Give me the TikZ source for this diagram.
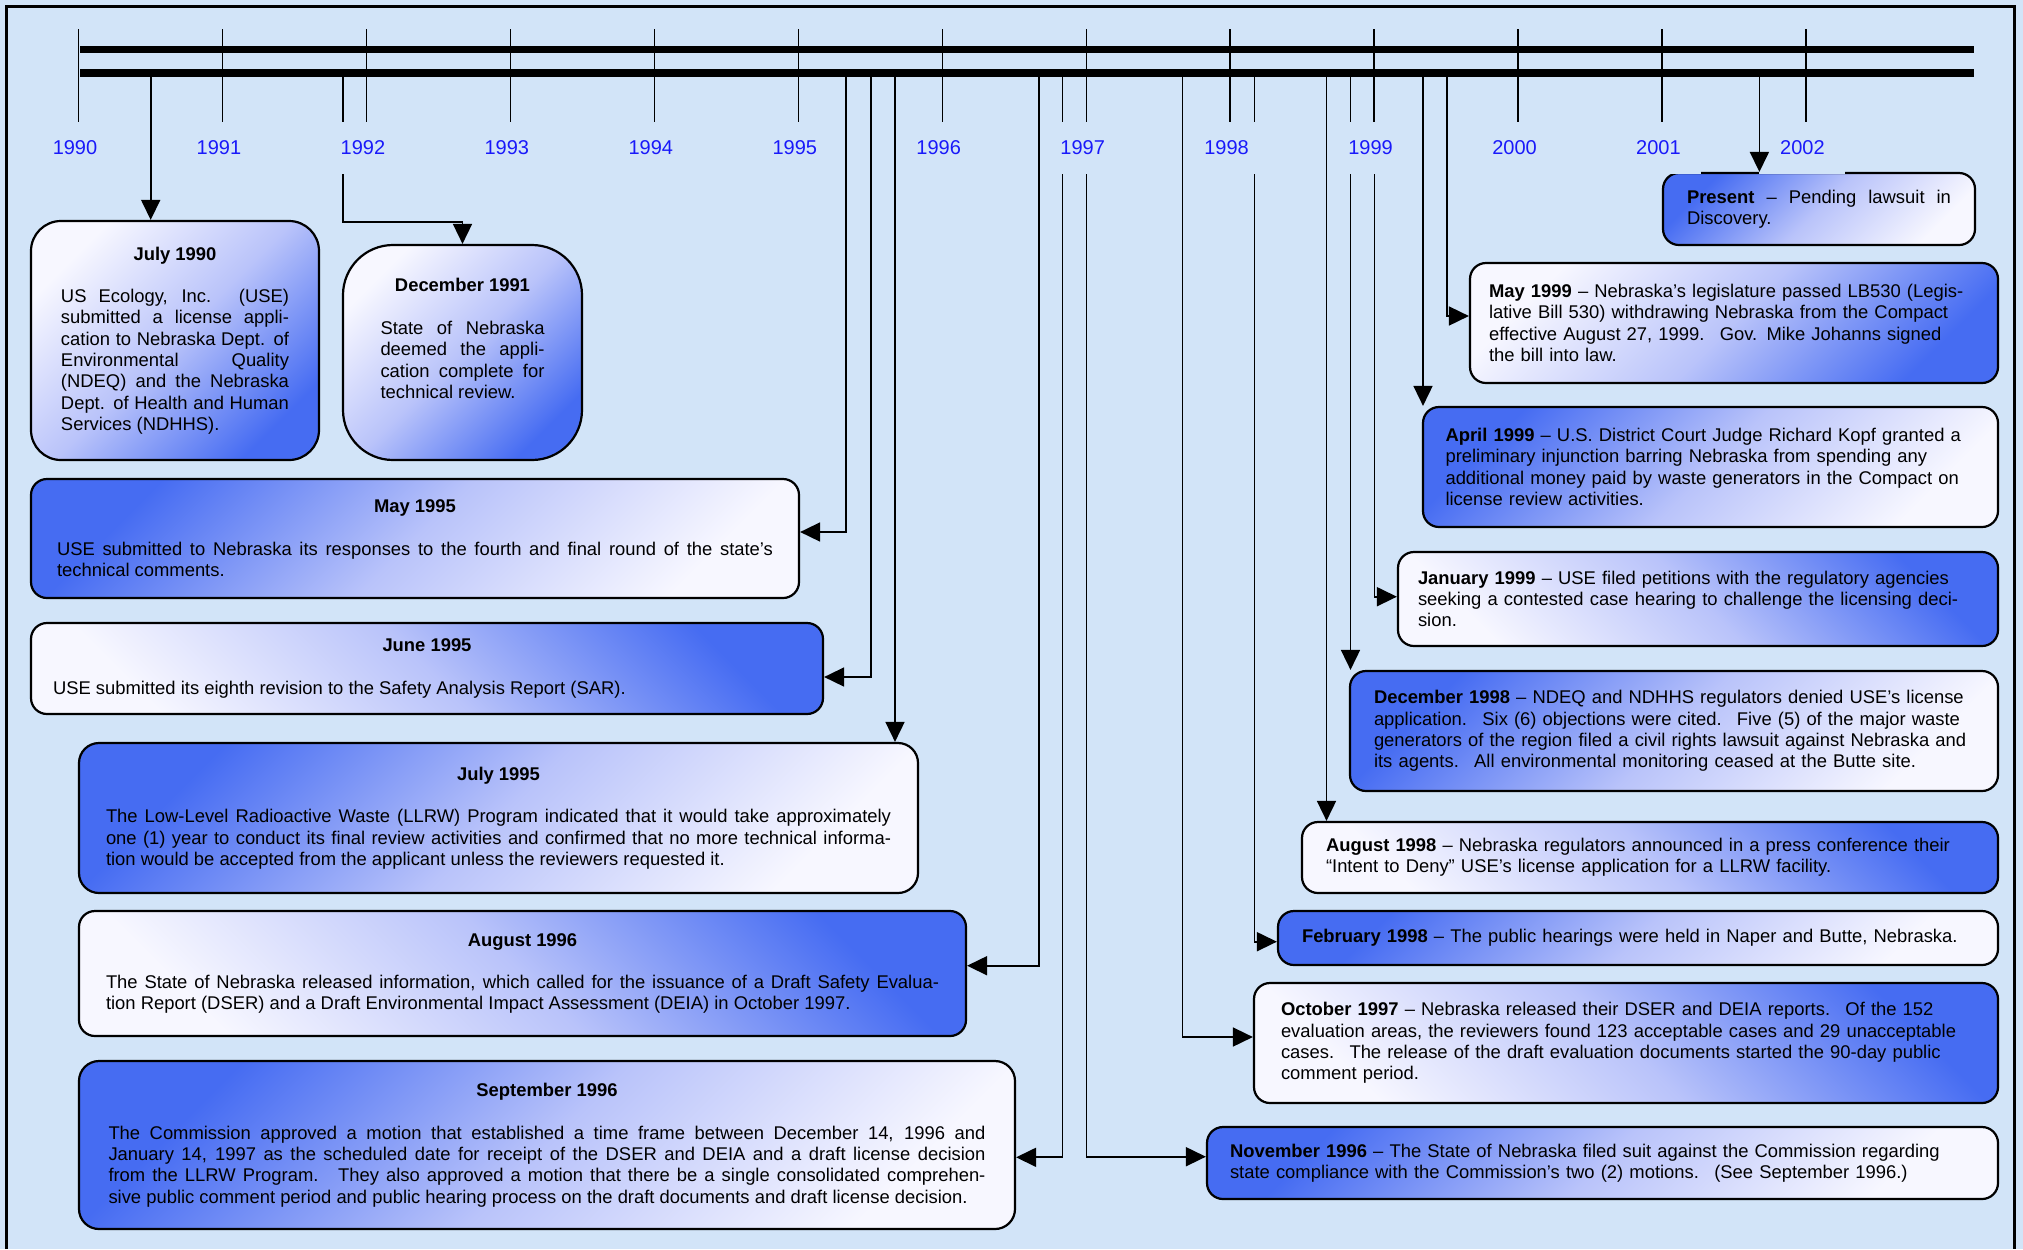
\documentclass[tikz,border=0pt]{standalone}
\usepackage{fontspec}
\setmainfont{Liberation Sans}
\usetikzlibrary{arrows.meta}
\newcommand\evhead[1]{{\centering\bfseries #1\par}\vspace{\baselineskip}}
\begin{document}
\begin{tikzpicture}[x=0.5pt,y=-0.5pt,
  evbox/.style={draw=black,line width=1.1pt,rounded corners=8pt,inner sep=0pt,
    font={\fontsize{9.2}{10.65}\selectfont\tolerance=10000\relax\hyphenpenalty=10000\relax}},
  darkTL/.style={top color=boxblue,bottom color=boxlight,middle color=boxmid,shading angle=45},
  darkTR/.style={top color=boxblue,bottom color=boxlight,middle color=boxmid,shading angle=-45},
  darkBR/.style={top color=boxlight,bottom color=boxblue,middle color=boxmid,shading angle=45},
  conn/.style={draw,line width=0.85pt,-{Triangle[length=10pt,width=9.5pt]}},
  yrlbl/.style={fill=bgblue,text=yrblue,font=\fontsize{10}{12}\selectfont,
    minimum width=43pt,minimum height=26pt,inner sep=0pt}]
\definecolor{bgblue}{RGB}{210,228,248}
\definecolor{boxblue}{RGB}{70,108,242}
\definecolor{boxmid}{RGB}{185,195,250}
\definecolor{boxlight}{RGB}{247,247,255}
\definecolor{yrblue}{RGB}{25,25,250}

\useasboundingbox (0,0) rectangle (2023,1249);
\path[fill=bgblue] (0,0) rectangle (2023,1249);
\path[draw,line width=1.5pt] (6,1249) -- (6,6) -- (2014,6) -- (2014,1249);

\foreach \yr [count=\i from 0] in {1990,...,2002}
  \path[draw,line width=0.75pt] ({78.6+143.95*\i},29) -- ({78.6+143.95*\i},124);
\path[draw,line width=3.35pt] (80,49.3) -- (1974,49.3);
\path[draw,line width=3.85pt] (80,72.8) -- (1974,72.8);

\node[evbox,darkBR,rounded corners=15pt,minimum width=144pt,minimum height=119.5pt,text width=114pt,align=justify] (jul90) at (175,340.5)
  {\evhead{July 1990}US Ecology, Inc. (USE)\linebreak submitted a license appli-\linebreak cation to Nebraska Dept. of\linebreak Environmental Quality\linebreak (NDEQ) and the Nebraska\linebreak Dept. of Health and Human\linebreak Services (NDHHS).};
\node[evbox,darkBR,rounded corners=25pt,minimum width=119.5pt,minimum height=107.5pt,text width=82pt,align=justify] (dec91) at (462.5,352.5)
  {\evhead{December 1991}State of Nebraska\linebreak deemed the appli-\linebreak cation complete for\linebreak technical review.\rule[-14pt]{0pt}{14pt}};
\node[evbox,darkTL,minimum width=384pt,minimum height=59.5pt,text width=358pt,align=justify] (may95) at (415,538.5)
  {\evhead{May 1995}USE submitted to Nebraska its responses to the fourth and final round of the state’s\linebreak technical comments.};
\node[evbox,darkTR,minimum width=396pt,minimum height=45.5pt,text width=374pt,align=justify] (jun95) at (427,668.5)
  {\evhead{June 1995}USE submitted its eighth revision to the Safety Analysis Report (SAR).};
\node[evbox,darkTL,rounded corners=10pt,minimum width=419.5pt,minimum height=75pt,text width=392.5pt,align=justify] (jul95) at (498.5,818)
  {\evhead{July 1995}The Low-Level Radioactive Waste (LLRW) Program indicated that it would take approximately\linebreak one (1) year to conduct its final review activities and confirmed that no more technical informa-\linebreak tion would be accepted from the applicant unless the reviewers requested it.};
\node[evbox,darkTR,minimum width=443.5pt,minimum height=62.5pt,text width=416.5pt,align=justify] (aug96) at (522.5,973.5)
  {\evhead{August 1996}The State of Nebraska released information, which called for the issuance of a Draft Safety Evalua-\linebreak tion Report (DSER) and a Draft Environmental Impact Assessment (DEIA) in October 1997.};
\node[evbox,darkTL,rounded corners=10pt,minimum width=468pt,minimum height=84pt,text width=438.5pt,align=justify] (sep96) at (547,1145)
  {\evhead{September 1996}The Commission approved a motion that established a time frame between December 14, 1996 and\linebreak January 14, 1997 as the scheduled date for receipt of the DSER and DEIA and a draft license decision\linebreak from the LLRW Program.~ They also approved a motion that there be a single consolidated comprehen-\linebreak sive public comment period and public hearing process on the draft documents and draft license decision.};

\node[evbox,darkTL,minimum width=395.5pt,minimum height=36pt,text width=372.5pt,align=left] (nov96) at (1602.5,1163)
  {\textbf{November 1996} -- The State of Nebraska filed suit against the Commission regarding\\ state compliance with the Commission’s two (2) motions.~ (See September 1996.)};
\node[evbox,darkTR,minimum width=372pt,minimum height=60pt,text width=345pt,align=left] (oct97) at (1626,1043)
  {\textbf{October 1997} -- Nebraska released their DSER and DEIA reports.~ Of the 152\\ evaluation areas, the reviewers found 123 acceptable cases and 29 unacceptable\\ cases.~ The release of the draft evaluation documents started the 90-day public\\ comment period.};
\node[evbox,darkTL,minimum width=360pt,minimum height=27pt,text width=336pt,align=left] (feb98) at (1638,938)
  {\textbf{February 1998} -- The public hearings were held in Naper and Butte, Nebraska.};
\node[evbox,darkTR,minimum width=348pt,minimum height=35.5pt,text width=324pt,align=left] (aug98) at (1650,857.5)
  {\textbf{August 1998} -- Nebraska regulators announced in a press conference their\\ “Intent to Deny” USE’s license application for a LLRW facility.};
\node[evbox,darkTL,minimum width=324pt,minimum height=60pt,text width=300pt,align=left] (dec98) at (1674,731)
  {\textbf{December 1998} -- NDEQ and NDHHS regulators denied USE’s license\\ application.~ Six (6) objections were cited.~ Five (5) of the major waste\\ generators of the region filed a civil rights lawsuit against Nebraska and\\ its agents.~ All environmental monitoring ceased at the Butte site.};
\node[evbox,darkTR,minimum width=300pt,minimum height=47pt,text width=280pt,align=left] (jan99) at (1698,599)
  {\textbf{January 1999} -- USE filed petitions with the regulatory agencies\\ seeking a contested case hearing to challenge the licensing deci-\\ sion.};
\node[evbox,darkTL,minimum width=287.5pt,minimum height=60pt,text width=265pt,align=left] (apr99) at (1710.5,467)
  {\textbf{April 1999} -- U.S. District Court Judge Richard Kopf granted a\\ preliminary injunction barring Nebraska from spending any\\ additional money paid by waste generators in the Compact on\\ license review activities.};
\node[evbox,darkBR,minimum width=264pt,minimum height=60pt,text width=245pt,align=left] (may99) at (1734,323)
  {\textbf{May 1999} -- Nebraska’s legislature passed LB530 (Legis-\\ lative Bill 530) withdrawing Nebraska from the Compact\\ effective August 27, 1999.~ Gov. Mike Johanns signed\\ the bill into law.};
\node[evbox,darkTL,minimum width=156pt,minimum height=36pt,text width=132pt,align=justify] (pres) at (1819,209)
  {\textbf{Present} -- Pending lawsuit in\linebreak Discovery.};

\coordinate (tJul90) at (150.7,74);
\coordinate (tDec91) at (342.7,74);
\coordinate (kDec91) at (462.5,221.7);
\coordinate (tMay95) at (845.7,74);
\coordinate (tJun95) at (870.9,74);
\coordinate (tJul95) at (895,74);
\coordinate (tAug96) at (1039,74);
\coordinate (tSep96) at (1062.6,74);
\coordinate (tNov96) at (1086.5,74);
\coordinate (tOct97) at (1182.5,74);
\coordinate (tFeb98) at (1254.5,74);
\coordinate (tAug98) at (1326.5,74);
\coordinate (tDec98) at (1350.5,74);
\coordinate (tJan99) at (1374.6,74);
\coordinate (tApr99) at (1423,74);
\coordinate (tMay99) at (1447,74);
\coordinate (tPres) at (1759.4,74);

\path[conn] (tJul90) -- (tJul90 |- jul90.north);
\path[conn] (tDec91) |- (kDec91) -- (dec91.north);
\path[conn] (tMay95) |- ([yshift=3.25pt]may95.east);
\path[conn] (tJun95) |- ([yshift=-4.25pt]jun95.east);
\path[conn] (tJul95) -- (tJul95 |- jul95.north);
\path[conn] (tAug96) |- ([yshift=3.9pt]aug96.east);
\path[conn] (tSep96) |- ([yshift=-6.15pt]sep96.east);
\path[conn] (tNov96) |- ([yshift=3.15pt]nov96.west);
\path[conn] (tOct97) |- ([yshift=3pt]oct97.west);
\path[conn] (tFeb98) |- ([yshift=-1.85pt]feb98.west);
\path[conn] (tAug98) -- (tAug98 |- aug98.north);
\path[conn] (tDec98) -- (tDec98 |- dec98.north);
\path[conn] (tJan99) |- ([yshift=1.15pt]jan99.west);
\path[conn] (tApr99) -- (tApr99 |- apr99.north);
\path[conn] (tMay99) |- ([yshift=3.5pt]may99.west);

\foreach \yr [count=\i from 0] in {1990,...,2002}
  \node[yrlbl] (y\yr) at ({75+143.95*\i},148) {\yr};

\path[conn] (tPres) -- (tPres |- pres.north);
\end{tikzpicture}
\end{document}
